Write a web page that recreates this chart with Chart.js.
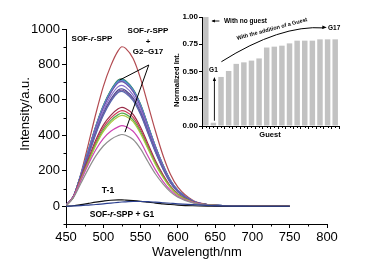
<!DOCTYPE html>
<html><head><meta charset="utf-8">
<script src="https://cdn.jsdelivr.net/npm/chart.js@4.4.1/dist/chart.umd.min.js"></script>
<style>
html,body{margin:0;padding:0;background:#fff;}
#wrap{position:relative;width:375px;height:269px;overflow:hidden;background:#fff;}
#main{position:absolute;left:0;top:0;}
#inset{position:absolute;left:170px;top:5px;}
</style></head><body>
<div id="wrap">
<canvas id="main" width="375" height="269"></canvas>
<canvas id="inset" width="180" height="140"></canvas>
</div>
<script>
// ---------- DATA ----------
const wavelengths = [450,460,470,480,490,500,510,520,525,530,540,550,560,570,580,590,600,620,640,660,680,700,750];
const sofRSPP = [4,54,185,351,522,675,792,878,900,891,833,720,572,423,288,180,108,34,10,4,2,0,0];
const sofG1   = [0,2,4,7,10,14,18,22,24,25,27,27,26,23,20,17,14,9,5,2,1,0,0];
const t1      = [0,3,9,16,23,29,34,36,36,35,32,28,23,18,14,10,7,3,1,0,0,0,0];
const g2  = [4,49,130,211,284,340,377,399,405,401,377,324,251,182,126,81,51,19,6,2,1,0,0];
const g3  = [5,55,146,237,319,382,423,448,455,450,423,364,282,205,141,91,57,22,7,3,1,0,0];
const g4  = [4,51,149,246,344,421,472,505,513,508,477,410,323,236,164,105,64,23,8,3,1,0,0];
const g5  = [4,53,152,252,352,431,483,517,525,520,488,420,331,242,168,108,66,24,8,3,1,0,0];
const g6  = [4,54,157,259,362,443,497,532,540,535,502,432,340,248,173,111,68,24,8,3,1,0,0];
const g7  = [4,56,162,268,374,458,513,550,558,552,519,446,352,257,179,114,70,25,8,3,1,0,0];
const g8  = [5,52,162,285,408,512,590,642,648,638,596,518,411,305,211,133,81,27,8,3,1,0,0];
const g9  = [5,52,164,288,413,517,596,648,655,645,603,524,416,308,213,134,82,28,9,3,1,0,0];
const g10 = [5,53,166,292,418,524,603,656,663,653,610,530,421,312,215,136,83,28,9,3,1,0,0];
const g11 = [5,55,171,300,430,539,621,675,682,672,627,546,433,321,222,140,85,29,9,3,1,0,0];
const g12 = [5,56,176,309,443,555,640,696,703,692,647,562,446,330,228,144,88,30,9,4,1,0,0];
const g13 = [5,56,177,311,445,558,642,699,706,695,650,565,448,332,229,145,88,30,9,4,1,0,0];
const g14 = [5,57,177,312,447,560,645,702,709,698,652,567,450,333,230,145,89,30,9,4,1,0,0];
const g15 = [5,57,178,314,449,563,649,706,713,702,656,570,453,335,232,146,89,30,9,4,1,0,0];
const g16 = [5,57,179,315,451,566,652,709,716,705,659,573,455,337,233,147,90,30,9,4,1,0,0];
const g17 = [5,58,180,316,453,568,654,712,719,708,661,575,457,338,234,147,90,30,9,4,1,0,0];

const xTickValues = [450,500,550,600,650,700,750,800];
const yTickValues = [0,200,400,600,800,1000];

const guestLabels = ['none','G1','G2','G3','G4','G5','G6','G7','G8','G9','G10','G11','G12','G13','G14','G15','G16','G17'];
const normInt = [1.00,0.03,0.45,0.505,0.57,0.584,0.60,0.62,0.72,0.728,0.737,0.758,0.783,0.783,0.783,0.795,0.795,0.795];
const insetYTicks = [0,0.25,0.5,0.75,1.0];

// ---------- SERIES ----------
const series = [
  ['SOF-r-SPP + G1', sofG1, '#2b3f8f'],
  ['T-1', t1, '#111111'],
  ['G2', g2, '#8e8e8e'],
  ['G3', g3, '#cc44b4'],
  ['G4', g4, '#a8c83c'],
  ['G5', g5, '#58aa50'],
  ['G6', g6, '#cc3a55'],
  ['G7', g7, '#9a2c48'],
  ['G8', g8, '#5a6ab0'],
  ['G9', g9, '#7a5a9c'],
  ['G10', g10, '#44468e'],
  ['G11', g11, '#8c70cc'],
  ['G12', g12, '#6a5aa8'],
  ['G13', g13, '#8a84d6'],
  ['G14', g14, '#4a7fd0'],
  ['G15', g15, '#3fa2c2'],
  ['G16', g16, '#2e8a8a'],
  ['G17', g17, '#557d52'],
  ['SOF-r-SPP', sofRSPP, '#b24a50']
];

const FONT = '"Liberation Sans", Arial, Helvetica, sans-serif';
Chart.defaults.font.family = FONT;
Chart.defaults.color = '#000';

function sofText(ctx, cx, cy, size, suffix) {
  const parts = [['SOF-','bold'],['r','italic bold'],['-SPP'+(suffix||''),'bold']];
  const ws = parts.map(p => { ctx.font = p[1]+' '+size+'px '+FONT; return ctx.measureText(p[0]).width; });
  let x = cx - ws.reduce((a,b)=>a+b,0)/2;
  ctx.textAlign='left'; ctx.textBaseline='middle'; ctx.fillStyle='#000';
  parts.forEach((p,i)=>{ ctx.font = p[1]+' '+size+'px '+FONT; ctx.fillText(p[0], x, cy); x += ws[i]; });
}
function txt(ctx, s, x, y, font, align) {
  ctx.font = font; ctx.textAlign = align||'center'; ctx.textBaseline='middle'; ctx.fillStyle='#000';
  ctx.fillText(s, x, y);
}
function arrowHead(ctx, x, y, ang, len, w) {
  ctx.beginPath();
  ctx.moveTo(x, y);
  ctx.lineTo(x - len*Math.cos(ang) + w*Math.sin(ang), y - len*Math.sin(ang) - w*Math.cos(ang));
  ctx.lineTo(x - len*Math.cos(ang) - w*Math.sin(ang), y - len*Math.sin(ang) + w*Math.cos(ang));
  ctx.closePath(); ctx.fill();
}

const mainDeco = {
  id: 'mainDeco',
  afterDraw(chart) {
    const ctx = chart.ctx, xs = chart.scales.x, ys = chart.scales.y, ca = chart.chartArea;
    ctx.save();
    ctx.strokeStyle = '#000'; ctx.lineWidth = 1;
    // minor ticks
    ys.ticks.forEach(t => { if (!yTickValues.includes(t.value)) {
      const py = Math.round(ys.getPixelForValue(t.value)) + 0.5;
      ctx.beginPath(); ctx.moveTo(ca.left - 2.5, py); ctx.lineTo(ca.left, py); ctx.stroke(); }});
    xs.ticks.forEach(t => { if (!xTickValues.includes(t.value)) {
      const px = Math.round(xs.getPixelForValue(t.value)) + 0.5;
      ctx.beginPath(); ctx.moveTo(px, ca.bottom); ctx.lineTo(px, ca.bottom + 2.5); ctx.stroke(); }});
    // pointer lines
    const ax = xs.getPixelForValue(561), ay = ys.getPixelForValue(797);
    ctx.beginPath();
    ctx.moveTo(xs.getPixelForValue(522), ys.getPixelForValue(712)); ctx.lineTo(ax, ay);
    ctx.lineTo(xs.getPixelForValue(529), ys.getPixelForValue(418));
    ctx.stroke();
    // labels
    sofText(ctx, 92, 39, 8);
    sofText(ctx, 148, 31, 8);
    txt(ctx, '+', 148, 42, 'bold 8px '+FONT);
    txt(ctx, 'G2~G17', 148, 52, 'bold 8px '+FONT);
    txt(ctx, 'T-1', 108, 191, 'bold 8.5px '+FONT);
    sofText(ctx, 122, 215, 8.5, ' + G1');
    txt(ctx, 'Wavelength/nm', 197, 252, '13px '+FONT);
    ctx.save(); ctx.translate(25, 114); ctx.rotate(-Math.PI/2);
    txt(ctx, 'Intensity/a.u.', 0, 0, '13px '+FONT);
    ctx.restore();
    ctx.restore();
  }
};

new Chart(document.getElementById('main'), {
  type: 'line',
  data: {
    datasets: series.map(s => ({
      label: s[0],
      data: wavelengths.map((w,i) => ({x: w, y: s[1][i]})),
      borderColor: s[2], borderWidth: 1.2, pointRadius: 0, fill: false,
      cubicInterpolationMode: 'monotone'
    }))
  },
  options: {
    responsive: false, animation: false, devicePixelRatio: 1,
    layout: { padding: { left: 0, top: 29, right: 48, bottom: 0 } },
    plugins: { legend: { display: false }, tooltip: { enabled: false } },
    scales: {
      x: {
        type: 'linear', min: 450, max: 800,
        ticks: { stepSize: 25, autoSkip: false, maxRotation: 0, padding: 2,
          font: { size: 13 }, color: '#000',
          callback: v => xTickValues.includes(v) ? String(v) : '' },
        grid: { drawOnChartArea: false, tickLength: 4,
          tickColor: c => (c.tick && xTickValues.includes(c.tick.value)) ? '#000' : 'rgba(0,0,0,0)' },
        border: { color: '#000', width: 1 },
        afterFit: s => { s.height = 45; s.paddingLeft = 0; s.paddingRight = 0; }
      },
      y: {
        type: 'linear', min: -100, max: 1000,
        ticks: { stepSize: 100, autoSkip: false, padding: 2, font: { size: 13 }, color: '#000',
          callback: v => yTickValues.includes(v) ? String(v) : '' },
        grid: { drawOnChartArea: false, tickLength: 4,
          tickColor: c => (c.tick && yTickValues.includes(c.tick.value)) ? '#000' : 'rgba(0,0,0,0)' },
        border: { color: '#000', width: 1 },
        afterFit: s => { s.width = 66; s.paddingTop = 0; s.paddingBottom = 0; }
      }
    }
  },
  plugins: [mainDeco]
});

// ---------- INSET ----------
const OX = 170, OY = 5;
const insetDeco = {
  id: 'insetDeco',
  afterDraw(chart) {
    const ctx = chart.ctx, xs = chart.scales.x, ys = chart.scales.y, ca = chart.chartArea;
    ctx.save();
    ctx.strokeStyle = '#000'; ctx.fillStyle = '#000'; ctx.lineWidth = 1;
    // center ticks on x axis
    for (let i = 0; i < guestLabels.length; i++) {
      const px = Math.round(xs.getPixelForValue(i)) + 0.5;
      ctx.beginPath(); ctx.moveTo(px, ca.bottom); ctx.lineTo(px, ca.bottom + 2); ctx.stroke();
    }
    // "With no guest" arrow
    const g1x = xs.getPixelForValue(1);
    const ny = ys.getPixelForValue(normInt[0]) + 4;
    ctx.lineWidth = 0.9;
    ctx.beginPath(); ctx.moveTo(g1x + 6, ny); ctx.lineTo(g1x - 1, ny); ctx.stroke();
    arrowHead(ctx, g1x - 2, ny, Math.PI, 3.5, 1.6);
    txt(ctx, 'With no guest', 224 - OX, 21 - OY, 'bold 6.5px '+FONT, 'left');
    // vertical arrow G1
    const topY = ys.getPixelForValue(normInt[2]);
    ctx.beginPath(); ctx.moveTo(g1x + 1, ys.getPixelForValue(normInt[1]) - 2); ctx.lineTo(g1x + 1, topY + 2); ctx.stroke();
    arrowHead(ctx, g1x + 1, topY, -Math.PI/2, 4, 1.6);
    txt(ctx, 'G1', g1x, topY - 7, 'bold 6.5px '+FONT);
    // curved arrow
    const sx = xs.getPixelForValue(2.05), sy = ys.getPixelForValue(0.59);
    const cx = xs.getPixelForValue(9.8), cy = ys.getPixelForValue(0.93);
    const ex = xs.getPixelForValue(15.5), ey = ys.getPixelForValue(0.90);
    ctx.lineWidth = 1;
    ctx.beginPath(); ctx.moveTo(sx, sy); ctx.quadraticCurveTo(cx, cy, ex, ey); ctx.stroke();
    arrowHead(ctx, ex + 3, ey - 0.3, Math.atan2(ey - cy, ex - cx), 4.5, 1.8);
    txt(ctx, 'G17', 328 - OX, 28 - OY, 'bold 6.5px '+FONT, 'left');
    ctx.save(); ctx.translate(272 - OX, 29 - OY); ctx.rotate(-15 * Math.PI / 180);
    txt(ctx, 'With the addition of a Guest', 0, 0, 'bold 5.5px '+FONT);
    ctx.restore();
    // axis titles
    txt(ctx, 'Guest', 270 - OX, 135 - OY, 'bold 7.5px '+FONT);
    ctx.save(); ctx.translate(177 - OX, 80 - OY); ctx.rotate(-Math.PI/2);
    txt(ctx, 'Normalized Int.', 0, 0, 'bold 7.5px '+FONT);
    ctx.restore();
    ctx.restore();
  }
};

new Chart(document.getElementById('inset'), {
  type: 'bar',
  data: {
    labels: guestLabels,
    datasets: [{ data: normInt, backgroundColor: '#c2c2c2', borderWidth: 0,
      barPercentage: 0.72, categoryPercentage: 1 }]
  },
  options: {
    responsive: false, animation: false, devicePixelRatio: 1,
    layout: { padding: { left: 0, top: 12, right: 11, bottom: 0 } },
    plugins: { legend: { display: false }, tooltip: { enabled: false } },
    scales: {
      x: {
        ticks: { display: false },
        grid: { drawOnChartArea: false, offset: true, tickLength: 3, tickColor: '#000' },
        border: { color: '#000', width: 1 },
        afterFit: s => { s.height = 19; s.paddingLeft = 0; s.paddingRight = 0; }
      },
      y: {
        min: 0, max: 1,
        ticks: { stepSize: 0.25, padding: 1, font: { size: 8, weight: 'bold' }, color: '#000',
          callback: v => insetYTicks.includes(v) ? v.toFixed(2) : '' },
        grid: { drawOnChartArea: false, tickLength: 3, tickColor: '#000' },
        border: { color: '#000', width: 1 },
        afterFit: s => { s.width = 32; s.paddingTop = 0; s.paddingBottom = 0; }
      }
    }
  },
  plugins: [insetDeco]
});
</script>
</body></html>
